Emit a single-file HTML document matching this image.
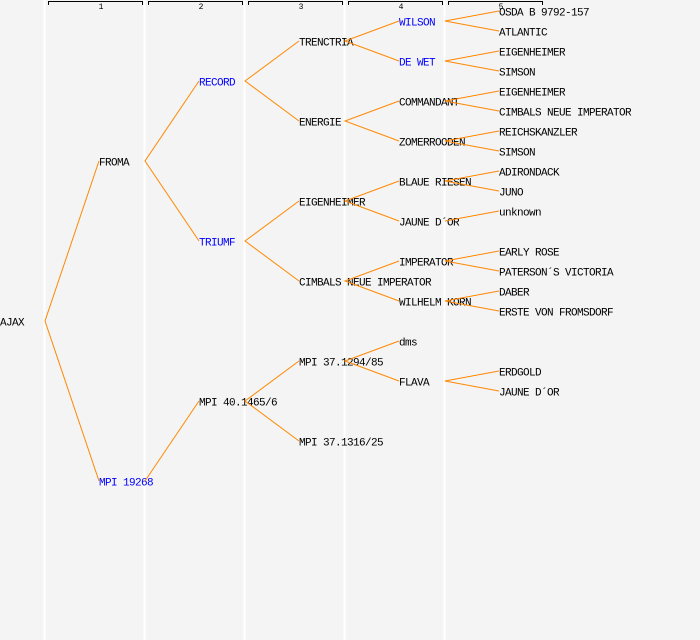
<!DOCTYPE html>
<html><head><meta charset="utf-8"><style>
html,body{margin:0;padding:0;background:#f4f4f4}
svg{display:block}
text{font-family:"Liberation Mono","DejaVu Sans Mono",monospace;font-size:11px;letter-spacing:-0.6px;dominant-baseline:central}
.b{fill:#0000ff}
</style></head><body>
<svg width="700" height="640" viewBox="0 0 700 640" xmlns="http://www.w3.org/2000/svg">
<rect width="700" height="640" fill="#f4f4f4"/>
<g stroke="#ffffff" stroke-width="2">
<line x1="44.5" y1="0" x2="44.5" y2="640"/><line x1="144.5" y1="0" x2="144.5" y2="640"/>
<line x1="244.5" y1="0" x2="244.5" y2="640"/><line x1="344.5" y1="0" x2="344.5" y2="640"/>
<line x1="444.5" y1="0" x2="444.5" y2="640"/>
</g>
<g stroke="#000" stroke-width="1" fill="none">
<path d="M48.5 5V1.5H142.5V5"/><path d="M148.5 5V1.5H242.5V5"/><path d="M248.5 5V1.5H342.5V5"/>
<path d="M348.5 5V1.5H442.5V5"/><path d="M448.5 5V1.5H542.5V5"/>
</g>
<g text-anchor="middle">
<text x="101" y="7.5" style="font-size:8px;letter-spacing:0">1</text><text x="201" y="7.5" style="font-size:8px;letter-spacing:0">2</text><text x="301" y="7.5" style="font-size:8px;letter-spacing:0">3</text><text x="401" y="7.5" style="font-size:8px;letter-spacing:0">4</text><text x="501" y="7.5" style="font-size:8px;letter-spacing:0">5</text>
</g>
<g transform="translate(0,1.5)">
<text x="0" y="322">AJAX</text>
<text x="99" y="162">FROMA</text>
<text x="99" y="482" class="b">MPI 19268</text>
<text x="199" y="82" class="b">RECORD</text>
<text x="199" y="242" class="b">TRIUMF</text>
<text x="199" y="402">MPI 40.1465/6</text>
<text x="299" y="42">TRENCTRIA</text>
<text x="299" y="122">ENERGIE</text>
<text x="299" y="202">EIGENHEIMER</text>
<text x="299" y="282">CIMBALS NEUE IMPERATOR</text>
<text x="299" y="362">MPI 37.1294/85</text>
<text x="299" y="442">MPI 37.1316/25</text>
<text x="399" y="22" class="b">WILSON</text>
<text x="399" y="62" class="b">DE WET</text>
<text x="399" y="102">COMMANDANT</text>
<text x="399" y="142">ZOMERROODEN</text>
<text x="399" y="182">BLAUE RIESEN</text>
<text x="399" y="222">JAUNE D´OR</text>
<text x="399" y="262">IMPERATOR</text>
<text x="399" y="302">WILHELM KORN</text>
<text x="399" y="342">dms</text>
<text x="399" y="382">FLAVA</text>
<text x="499" y="12">OSDA B 9792-157</text>
<text x="499" y="32">ATLANTIC</text>
<text x="499" y="52">EIGENHEIMER</text>
<text x="499" y="72">SIMSON</text>
<text x="499" y="92">EIGENHEIMER</text>
<text x="499" y="112">CIMBALS NEUE IMPERATOR</text>
<text x="499" y="132">REICHSKANZLER</text>
<text x="499" y="152">SIMSON</text>
<text x="499" y="172">ADIRONDACK</text>
<text x="499" y="192">JUNO</text>
<text x="499" y="212">unknown</text>
<text x="499" y="252">EARLY ROSE</text>
<text x="499" y="272">PATERSON´S VICTORIA</text>
<text x="499" y="292">DABER</text>
<text x="499" y="312">ERSTE VON FROMSDORF</text>
<text x="499" y="372">ERDGOLD</text>
<text x="499" y="392">JAUNE D´OR</text>
</g>
<g stroke="#ff8800" stroke-width="1" fill="none">
<path d="M99 161L45 321L99 481"/>
<path d="M199 81L145 161L199 241"/>
<path d="M199 401L145 481"/>
<path d="M299 41L245 81L299 121"/>
<path d="M299 201L245 241L299 281"/>
<path d="M299 361L245 401L299 441"/>
<path d="M399 21L345 41L399 61"/>
<path d="M399 101L345 121L399 141"/>
<path d="M399 181L345 201L399 221"/>
<path d="M399 261L345 281L399 301"/>
<path d="M399 341L345 361L399 381"/>
<path d="M499 11L445 21L499 31"/>
<path d="M499 51L445 61L499 71"/>
<path d="M499 91L445 101L499 111"/>
<path d="M499 131L445 141L499 151"/>
<path d="M499 171L445 181L499 191"/>
<path d="M499 211L445 221"/>
<path d="M499 251L445 261L499 271"/>
<path d="M499 291L445 301L499 311"/>
<path d="M499 371L445 381L499 391"/>
</g>
</svg>
</body></html>
